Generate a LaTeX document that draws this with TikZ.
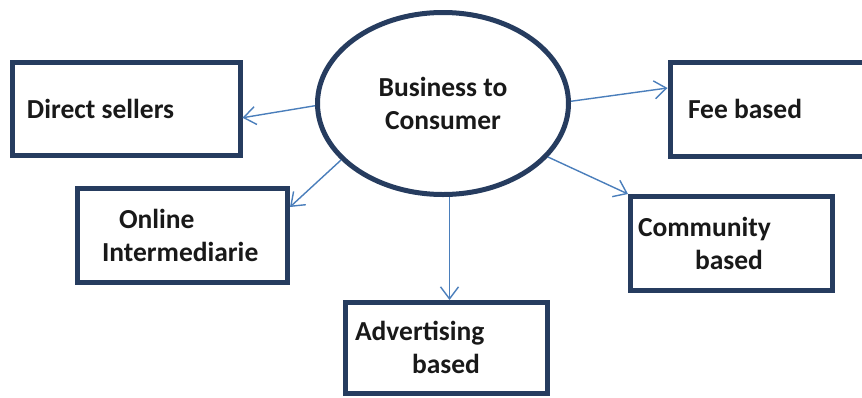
\documentclass[tikz,border=0pt]{standalone}
\usepackage{fontspec}
\setmainfont{Carlito}
\usetikzlibrary{shapes.geometric,arrows.meta,calc}
\definecolor{edgeblue}{RGB}{38,60,95}
\definecolor{arrowblue}{RGB}{74,126,187}

\begin{document}
\begin{tikzpicture}[x=1pt,y=1pt,yscale=-1,
    txt/.style={font=\fontsize{27.5}{33}\selectfont\bfseries, text=black!90},
    box/.style={txt, draw=edgeblue, line width=5pt, align=flush left, inner ysep=0pt, minimum height=94pt},
    link/.style={draw=arrowblue, line width=1.4pt, -{Straight Barb[length=12pt,width=18pt]}}]
    \useasboundingbox (0,0) rectangle (862,397);
    %Shape: Ellipse [id:b2c]
    \node [txt, ellipse, draw=edgeblue, line width=5pt, inner sep=0pt, align=flush center,
        minimum width=251pt, minimum height=182pt] (b2c) at (443,103.5) {Business to\\Consumer};
    %Shape: Rectangle [id:direct]
    \node [box, text width=198.5pt, inner xsep=14.5pt, minimum height=93.5pt] (direct) at (126.25,108.75) {Direct sellers};
    %Shape: Rectangle [id:online]
    \node [box, text width=161pt, inner xsep=24.5pt] (online) at (182.5,235.5) {\hspace*{17pt}Online\\Intermediarie};
    %Shape: Rectangle [id:adv]
    \node [box, text width=182pt, inner xsep=10pt, minimum height=90.5pt] (adv) at (446,347.75) {Advertising\\\hspace*{57pt}based};
    %Shape: Rectangle [id:community]
    \node [box, text width=187pt, inner xsep=7.5pt] (community) at (731.5,243.5) {Community\\\hspace*{57pt}based};
    %Shape: Rectangle [id:fee]
    \node [box, text width=174pt, inner xsep=18pt] (fee) at (775,109) {Fee based};

    %Straight Lines
    \draw [link] (b2c.181) -- ($(direct.east)+(0,9)$);
    %Straight Lines
    \draw [link] (b2c.209) -- ($(online.east)+(0,-28.5)$);
    %Straight Lines
    \draw [link] (b2c.274) -- (b2c.274 |- adv.north);
    %Straight Lines
    \draw [link] (b2c.333) -- (community.north west);
    %Straight Lines
    \draw [link] (b2c.1) -- ($(fee.west)+(0,-21)$);
\end{tikzpicture}
\end{document}
